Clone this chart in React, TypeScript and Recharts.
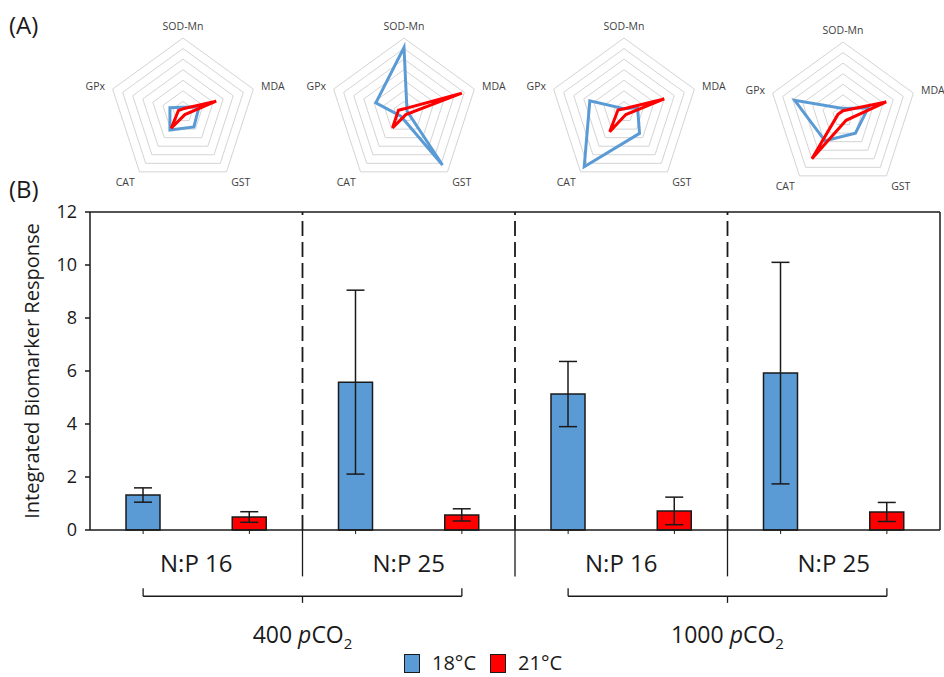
import {
  Bar,
  BarChart,
  Cell,
  ErrorBar,
  Legend,
  PolarAngleAxis,
  PolarGrid,
  PolarRadiusAxis,
  Radar,
  RadarChart,
  ReferenceLine,
  XAxis,
  YAxis,
} from "recharts";

// (A) radar panels: biomarker axes, values read in grid rings (0-7)
const markers = ["SOD-Mn", "MDA", "GST", "CAT", "GPx"];
const radar18 = [
  [0.45, 1.6, 1.75, 2.1, 1.3],
  [6.1, 0.3, 6.2, 0.5, 2.8],
  [0.3, 1.35, 2.5, 6.4, 3.4],
  [0.7, 2.5, 2.0, 2.9, 4.8],
];
const radar21 = [
  [0.3, 3.3, 0.3, 1.9, 0.45],
  [0.3, 5.75, 0.3, 1.85, 0.55],
  [0.3, 4.0, 0.3, 2.3, 0.6],
  [0.5, 4.3, 0.5, 5.0, 0.5],
];

// (B) integrated biomarker response
const groups = ["N:P 16", "N:P 25", "N:P 16", "N:P 25"];
const co2Levels = ["400", "1000"];
const ibr18 = [1.32, 5.58, 5.13, 5.92];
const err18 = [0.27, 3.47, 1.23, 4.18];
const ibr21 = [0.49, 0.57, 0.72, 0.68];
const err21 = [0.2, 0.23, 0.52, 0.36];
const yTicks = [0, 2, 4, 6, 8, 10, 12];
const temps = ["18°C", "21°C"];

const BLUE = "#5b9bd5";
const RED = "#ff0000";
const INK = "#1a1a1a";
const FONT = "'Open Sans', 'Noto Sans', sans-serif";

const barRows = groups.flatMap((_, i) => [
  { pos: i * 2 + 0.5, value: ibr18[i], err: err18[i], series: 0 },
  { pos: i * 2 + 1.5, value: ibr21[i], err: err21[i], series: 1 },
]);
const barTicks = barRows.map((r) => r.pos);
const groupTicks = groups.map((_, i) => i * 2 + 1);
const groupEdges = [2, 4, 6];
const co2Ticks = co2Levels.map((_, k) => k * 4 + 2);

const radarCenters = [
  { cx: 183, cy: 112 },
  { cx: 404, cy: 112 },
  { cx: 624, cy: 112 },
  { cx: 843, cy: 116 },
];

function RadarPanel({ index }: { index: number }) {
  const rows = markers.map((m, k) => ({
    marker: m,
    t18: radar18[index][k],
    t21: radar21[index][k],
  }));
  const { cx, cy } = radarCenters[index];
  return (
    <div style={{ position: "absolute", left: cx - 110, top: 0 }}>
      <RadarChart
        width={220}
        height={192}
        data={rows}
        cx={110}
        cy={cy}
        outerRadius={74}
        margin={{ top: 0, right: 0, bottom: 0, left: 0 }}
      >
        <PolarGrid gridType="polygon" radialLines={false} stroke="#d4d4d4" />
        <PolarAngleAxis
          dataKey="marker"
          tickLine={false}
          axisLine={false}
          tick={{ fontSize: 10.5, fill: "#404040", fontFamily: FONT }}
        />
        <PolarRadiusAxis domain={[0, 7]} tickCount={8} tick={false} axisLine={false} />
        <Radar
          dataKey="t18"
          stroke={BLUE}
          strokeWidth={3}
          fill="none"
          fillOpacity={0}
          dot={false}
          isAnimationActive={false}
        />
        <Radar
          dataKey="t21"
          stroke={RED}
          strokeWidth={3}
          fill="none"
          fillOpacity={0}
          dot={false}
          isAnimationActive={false}
        />
      </RadarChart>
    </div>
  );
}

function Co2Tick({ x, y, payload }: any) {
  const level = co2Levels[Math.floor(payload.value / 4)];
  return (
    <text x={x} y={y + 112} textAnchor="middle" fontSize={23} fill={INK} fontFamily={FONT}>
      {level}{" "}
      <tspan fontStyle="italic">p</tspan>CO
      <tspan dy={6} fontSize={15}>2</tspan>
    </text>
  );
}

function TempLegend() {
  const colors = [BLUE, RED];
  return (
    <div
      style={{
        display: "flex",
        alignItems: "center",
        paddingLeft: 404,
        height: 28,
        lineHeight: "28px",
        fontFamily: FONT,
        fontSize: 20,
        color: INK,
      }}
    >
      {temps.map((t, i) => (
        <div key={t} style={{ display: "flex", alignItems: "center", marginRight: 14 }}>
          <span
            style={{
              display: "inline-block",
              width: 14,
              height: 17,
              background: colors[i],
              border: `1.5px solid ${INK}`,
              marginRight: 12,
            }}
          />
          {t}
        </div>
      ))}
    </div>
  );
}

export default function App() {
  return (
    <div
      style={{
        position: "absolute",
        left: 0,
        top: 0,
        width: 944,
        height: 677,
        overflow: "hidden",
        background: "#fff",
        fontFamily: FONT,
        color: INK,
      }}
    >
      <div style={{ position: "absolute", left: 9, top: 8, fontSize: 24 }}>(A)</div>
      {radarCenters.map((_, i) => (
        <RadarPanel key={i} index={i} />
      ))}
      <div style={{ position: "absolute", left: 9, top: 172, fontSize: 24 }}>(B)</div>

      <div style={{ position: "absolute", left: 0, top: 180 }}>
        <BarChart
          width={944}
          height={497}
          data={barRows}
          margin={{ top: 32, right: 4, left: 0, bottom: 144 }}
        >
          <XAxis
            xAxisId="bars"
            dataKey="pos"
            type="number"
            domain={[0, 8]}
            ticks={barTicks}
            interval={0}
            height={1}
            tickFormatter={() => ""}
            tickSize={4}
            axisLine={{ stroke: INK, strokeWidth: 1.5 }}
            tickLine={{ stroke: INK, strokeWidth: 1 }}
          />
          <XAxis
            xAxisId="np"
            dataKey="pos"
            type="number"
            domain={[0, 8]}
            ticks={groupTicks}
            interval={0}
            height={1}
            axisLine={false}
            tickLine={false}
            tickSize={0}
            tickMargin={23}
            tickFormatter={(v: number) => groups[(v - 1) / 2]}
            tick={{ fontSize: 24, fill: INK, fontFamily: FONT }}
          />
          <XAxis
            xAxisId="co2"
            dataKey="pos"
            type="number"
            domain={[0, 8]}
            ticks={co2Ticks}
            interval={0}
            height={1}
            axisLine={false}
            tickLine={false}
            tickSize={0}
            tickMargin={0}
            tick={<Co2Tick />}
          />
          <YAxis
            domain={[0, 12]}
            ticks={yTicks}
            width={90}
            tickSize={5}
            tickMargin={8}
            axisLine={{ stroke: INK, strokeWidth: 1.5 }}
            tickLine={{ stroke: INK, strokeWidth: 1.5 }}
            tick={{ fontSize: 18, fill: INK, fontFamily: FONT }}
            label={{
              value: "Integrated Biomarker Response",
              angle: -90,
              position: "insideLeft",
              offset: 32,
              style: { textAnchor: "middle", fontSize: 20, fill: INK, fontFamily: FONT },
            }}
          />

          <ReferenceLine xAxisId="bars" y={12} stroke={INK} strokeWidth={1.5} />
          <ReferenceLine xAxisId="bars" x={8} stroke={INK} strokeWidth={1.5} />
          {groupEdges.map((b) => (
            <ReferenceLine
              key={`d${b}`}
              xAxisId="bars"
              x={b}
              stroke={INK}
              strokeWidth={1.8}
              strokeDasharray="15 6"
            />
          ))}
          {groupEdges.map((b) => (
            <ReferenceLine
              key={`s${b}`}
              xAxisId="bars"
              segment={[
                { x: b, y: 0 },
                { x: b, y: -1.75 },
              ]}
              ifOverflow="visible"
              stroke={INK}
              strokeWidth={1.3}
            />
          ))}
          {co2Ticks.map((c) => (
            <ReferenceLine
              key={`b${c}`}
              xAxisId="bars"
              segment={[
                { x: c - 1.5, y: -2.5 },
                { x: c + 1.5, y: -2.5 },
              ]}
              ifOverflow="visible"
              stroke={INK}
              strokeWidth={1.3}
            />
          ))}
          {co2Ticks.flatMap((c) =>
            [c - 1.5, c + 1.5].map((e) => (
              <ReferenceLine
                key={`e${c}${e}`}
                xAxisId="bars"
                segment={[
                  { x: e, y: -2.5 },
                  { x: e, y: -2.2 },
                ]}
                ifOverflow="visible"
                stroke={INK}
                strokeWidth={1.3}
              />
            ))
          )}
          {co2Ticks.map((c) => (
            <ReferenceLine
              key={`m${c}`}
              xAxisId="bars"
              segment={[
                { x: c, y: -2.5 },
                { x: c, y: -2.75 },
              ]}
              ifOverflow="visible"
              stroke={INK}
              strokeWidth={1.3}
            />
          ))}

          <Bar
            xAxisId="bars"
            dataKey="value"
            barSize={34}
            stroke={INK}
            strokeWidth={1.5}
            isAnimationActive={false}
          >
            {barRows.map((r, i) => (
              <Cell key={i} fill={r.series === 0 ? BLUE : RED} />
            ))}
            <ErrorBar dataKey="err" width={9} stroke={INK} strokeWidth={1.5} direction="y" />
          </Bar>

          <Legend
            verticalAlign="middle"
            align="center"
            layout="horizontal"
            wrapperStyle={{ top: 469, left: 0, width: 944, height: 28 }}
            content={() => <TempLegend />}
          />
        </BarChart>
      </div>
    </div>
  );
}
